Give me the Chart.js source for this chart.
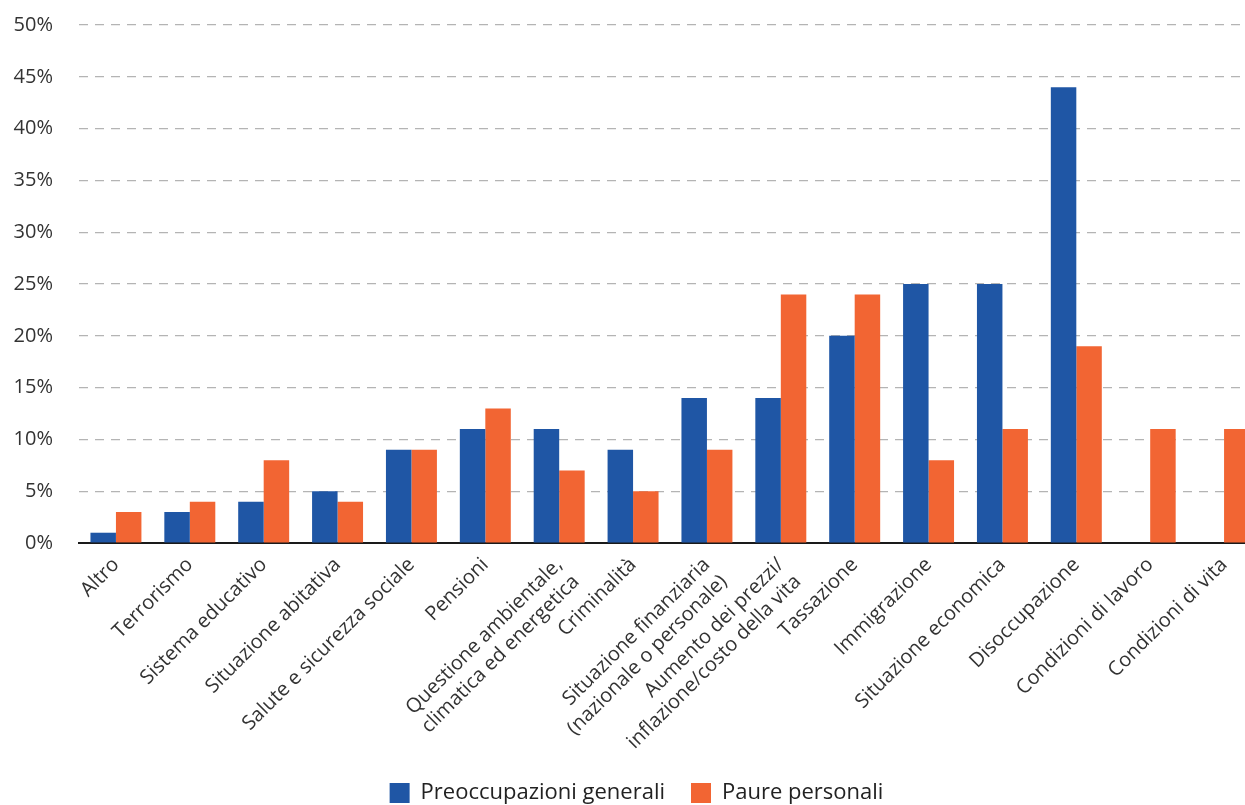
<!DOCTYPE html>
<html>
<head>
<meta charset="utf-8">
<script src="https://cdn.jsdelivr.net/npm/chart.js@4/dist/chart.umd.min.js"></script>
<style>
html,body{margin:0;padding:0;background:#fff;overflow:hidden;}
#wrap{position:absolute;left:0;top:0;width:1304px;height:805px;}
</style>
</head>
<body>
<div id="wrap"><canvas id="c"></canvas></div>
<script>
const categories = [
  "Altro",
  "Terrorismo",
  "Sistema educativo",
  "Situazione abitativa",
  "Salute e sicurezza sociale",
  "Pensioni",
  ["Questione ambientale,", "climatica ed energetica"],
  "Criminalità",
  ["Situazione finanziaria", "(nazionale o personale)"],
  ["Aumento dei prezzi/", "inflazione/costo della vita"],
  "Tassazione",
  "Immigrazione",
  "Situazione economica",
  "Disoccupazione",
  "Condizioni di lavoro",
  "Condizioni di vita"
];
const preoccupazioniGenerali = [1, 3, 4, 5, 9, 11, 11, 9, 14, 14, 20, 25, 25, 44, null, null];
const paurePersonali = [3, 4, 8, 4, 9, 13, 7, 5, 9, 24, 24, 8, 11, 19, 11, 11];
const seriesNames = ["Preoccupazioni generali", "Paure personali"];
const yTicks = [0, 5, 10, 15, 20, 25, 30, 35, 40, 45, 50];

const FONT = "'Open Sans', 'Noto Sans', sans-serif";
new Chart(document.getElementById('c'), {
  type: 'bar',
  data: {
    labels: categories,
    datasets: [
      { label: seriesNames[0], data: preoccupazioniGenerali, backgroundColor: '#1F56A5', categoryPercentage: 0.69, barPercentage: 1.0 },
      { label: seriesNames[1], data: paurePersonali, backgroundColor: '#F26533', categoryPercentage: 0.69, barPercentage: 1.0 }
    ]
  },
  options: {
    responsive: true,
    maintainAspectRatio: false,
    animation: false,
    layout: { autoPadding: false, padding: { left: 12, right: 43, top: 25, bottom: -9 } },
    plugins: {
      tooltip: { enabled: false },
      legend: {
        position: 'bottom',
        labels: {
          boxWidth: 20, boxHeight: 20, padding: 26,
          color: '#222',
          font: { family: FONT, size: 22 }
        }
      }
    },
    scales: {
      x: {
        grid: { display: false },
        border: { display: true, color: '#1a1a1a', width: 2 },
        afterFit: (axis) => { axis.paddingLeft = 0; axis.paddingRight = 0; },
        ticks: {
          color: '#333',
          font: { family: FONT, size: 20 },
          maxRotation: 45, minRotation: 45,
          autoSkip: false,
          padding: 2
        }
      },
      y: {
        min: 0, max: 50,
        afterBuildTicks: (axis) => { axis.ticks = yTicks.map(v => ({ value: v })); },
        afterFit: (axis) => { axis.width = 67; axis.paddingTop = 0; axis.paddingBottom = 0; },
        grid: { color: '#b4b4b4', lineWidth: 1.3, drawTicks: false },
        border: { display: false, dash: [9, 7] },
        ticks: {
          color: '#333',
          font: { family: FONT, size: 20 },
          padding: 26,
          callback: (v) => v + '%'
        }
      }
    }
  }
});
</script>
</body>
</html>
